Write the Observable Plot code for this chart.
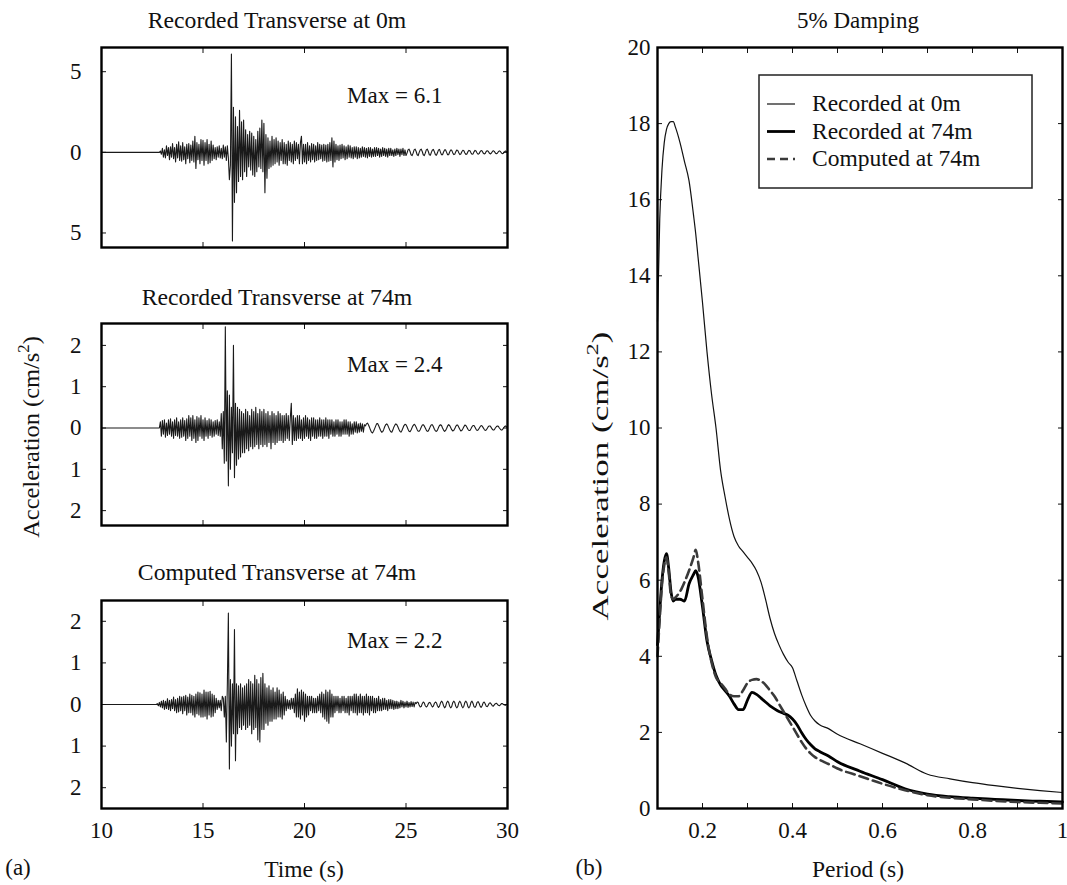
<!DOCTYPE html>
<html>
<head>
<meta charset="utf-8">
<script src="https://cdn.jsdelivr.net/npm/d3@7"></script>
<script src="https://cdn.jsdelivr.net/npm/@observablehq/plot@0.6"></script>
<style>
  body { margin: 0; background: #fff; }
  #fig { position: relative; width: 1067px; height: 885px; overflow: hidden; background: #fff; }
</style>
</head>
<body>
<div id="fig"></div>
<script>
// ---------------- DATA ----------------
// Time series sampled every 0.05 s from 10 s to 30 s (401 samples each, 10 per row = 0.5 s)
const SAMPLE_START = 10;
const SAMPLE_STEP = 0.05;

const acc0mRecorded = [
  0,0,0,0,0,0,0,0,0,0,
  0,0,0,0,0,0,0,0,0,0,
  0,0,0,0,0,0,0,0,0,0,
  0,0,0,0,0,0,0,0,0,0,
  0,0,0,0,0,0,0,0,0,0,
  0,0,0,0,0,0,0,0,0.08,-0.12,
  0.25,-0.3,0.15,-0.35,0.4,-0.2,0.3,-0.45,0.35,-0.3,
  0.55,-0.4,0.3,-0.6,0.5,-0.35,0.65,-0.5,0.4,-0.55,
  0.6,-0.45,0.35,-0.7,0.5,-0.4,0.55,-0.65,0.45,-0.5,
  0.7,-0.6,1.0,-1.0,0.6,-0.45,0.5,-0.7,0.8,-0.5,
  0.75,-0.8,0.6,-0.5,0.8,-0.7,0.5,-0.65,0.7,-0.5,
  0.45,-0.4,0.3,-0.45,0.35,-0.3,0.4,-0.35,0.25,-0.4,
  0.45,-0.3,0.35,-0.5,0.4,-0.35,-1.7,-0.8,6.1,-5.5,
  2.8,-3.1,2.2,-2.5,1.6,-1.8,2.6,-1.5,1.9,-1.7,
  2.0,-1.2,1.4,-1.5,1.1,-0.9,1.3,-1.1,1.2,-1.4,
  1.0,-1.5,0.8,-1.2,1.3,-0.9,1.5,-1.0,2.0,-1.2,
  1.8,-2.5,1.1,-1.6,0.9,-1.0,0.7,-0.9,1.0,-0.8,
  0.8,-0.7,0.9,-0.6,0.7,-0.8,0.6,-0.5,0.8,-0.7,
  0.6,-0.7,0.5,-0.8,0.7,-0.5,0.6,-0.6,0.5,-0.7,
  0.7,-0.5,0.6,-0.4,0.5,-0.7,0.6,1.0,-0.7,0.5,
  -0.6,0.5,-0.7,0.6,-0.5,0.4,-0.6,0.55,-0.45,0.5,
  -0.6,0.4,-0.5,0.6,-0.45,0.5,-0.4,0.45,-0.55,0.5,
  -0.5,0.45,-0.6,0.5,-0.55,0.6,-0.5,0.9,-0.9,0.7,
  -0.6,0.5,-0.45,0.4,-0.5,0.45,-0.4,0.5,-0.35,0.4,
  -0.45,0.35,-0.4,0.45,-0.3,0.4,-0.35,0.3,-0.4,0.35,
  -0.3,0.35,-0.4,0.3,-0.35,0.25,-0.3,0.35,-0.25,0.3,
  -0.3,0.25,-0.35,0.3,-0.25,0.3,-0.3,0.2,-0.25,0.3,
  -0.25,0.3,-0.2,0.25,-0.3,0.2,-0.25,0.3,-0.2,0.25,
  -0.25,0.2,-0.3,0.25,-0.2,0.25,-0.2,0.15,-0.25,0.2,
  -0.2,0.25,-0.15,0.2,-0.25,0.2,-0.15,0.25,-0.2,0.15,
  -0.2,-0.05,0.15,0.2,0.05,-0.15,-0.2,-0.05,0.15,0.2,
  0.05,-0.15,-0.2,0,0.15,0.2,0.05,-0.15,-0.2,-0.05,
  0.15,0.2,0.05,-0.15,-0.18,0,0.15,0.18,0.03,-0.15,
  -0.18,-0.03,0.15,0.18,0,-0.15,-0.15,0.02,0.15,0.15,
  0,-0.15,-0.15,0.02,0.14,0.14,-0.02,-0.14,-0.12,0.03,
  0.14,0.12,-0.03,-0.14,-0.1,0.04,0.13,0.1,-0.04,-0.13,
  -0.1,0.04,0.12,0.1,-0.03,-0.12,-0.1,0.03,0.12,0.08,
  -0.04,-0.12,-0.08,0.04,0.11,0.08,-0.04,-0.1,-0.07,0.05,
  0.1,0.07,-0.04,-0.1,-0.06,0.04,0.1,0.06,-0.04,-0.09,
  -0.06,0.04,0.09,0.05,-0.04,-0.08,-0.05,0.03,0.08,0.04,
  0
];

const acc74mRecorded = [
  0,0,0,0,0,0,0,0,0,0,
  0,0,0,0,0,0,0,0,0,0,
  0,0,0,0,0,0,0,0,0,0,
  0,0,0,0,0,0,0,0,0,0,
  0,0,0,0,0,0,0,0,0,0,
  0,0,0,0,0,0,0,0,0.15,-0.2,
  0.18,-0.15,0.2,-0.22,0.12,-0.18,0.2,-0.15,0.22,-0.2,
  0.15,-0.25,0.2,-0.18,0.25,-0.2,0.15,-0.25,0.2,-0.22,
  0.25,-0.2,0.18,-0.3,0.22,-0.25,0.3,-0.2,0.25,-0.3,
  0.3,-0.25,0.2,-0.35,0.28,-0.3,0.25,-0.2,0.3,-0.25,
  0.2,-0.3,0.25,-0.2,0.18,-0.25,0.22,-0.18,0.2,-0.22,
  0.15,-0.2,0.18,-0.15,0.2,-0.18,0.15,-0.2,0.35,-0.5,
  0.4,-0.85,2.45,-0.8,0.9,-1.4,0.8,-1.0,0.5,-0.6,
  2.0,-1.2,0.6,-0.9,0.5,-0.75,0.45,-0.7,0.4,-0.6,
  0.35,-0.6,0.45,-0.5,0.4,-0.55,0.3,-0.45,0.45,-0.5,
  0.4,-0.45,0.5,-0.4,0.35,-0.5,0.45,-0.4,0.4,-0.45,
  0.45,-0.4,0.35,-0.45,0.4,-0.35,0.3,-0.5,0.4,-0.35,
  0.35,-0.4,0.3,-0.35,0.4,-0.3,0.35,-0.3,0.3,-0.35,
  0.3,-0.3,0.35,-0.25,0.3,-0.3,0.25,0.6,-0.4,0.3,
  -0.3,0.25,-0.3,0.3,-0.25,0.3,-0.25,0.2,-0.3,0.25,
  -0.25,0.3,-0.2,0.25,-0.25,0.2,-0.3,0.25,-0.2,0.25,
  -0.25,0.2,-0.25,0.2,-0.2,0.25,-0.2,0.2,-0.25,0.2,
  -0.2,0.25,-0.2,0.2,-0.25,0.2,-0.15,0.2,-0.2,0.15,
  -0.2,0.2,-0.15,0.2,-0.2,0.15,-0.2,0.15,-0.15,0.2,
  -0.15,0.2,-0.15,0.15,-0.2,0.15,-0.15,0.1,-0.15,0.15,
  -0.1,0.15,-0.12,0.1,-0.1,0.12,-0.08,0.1,-0.1,0.08,
  0.05,0.1,0.12,0.08,0.02,-0.05,-0.1,-0.12,-0.08,-0.02,
  0.04,0.1,0.11,0.06,0,-0.06,-0.1,-0.09,-0.04,0.03,
  0.08,0.1,0.07,0.01,-0.05,-0.09,-0.1,-0.05,0.02,0.07,
  0.1,0.08,0.03,-0.03,-0.08,-0.1,-0.06,0,0.06,0.09,
  0.08,0.03,-0.03,-0.08,-0.09,-0.05,0.01,0.06,0.09,0.07,
  0.02,-0.04,-0.08,-0.08,-0.04,0.02,0.07,0.08,0.05,0,
  -0.05,-0.08,-0.07,-0.02,0.04,0.08,0.08,0.03,-0.03,-0.07,
  -0.08,-0.05,0.01,0.06,0.08,0.06,0,-0.05,-0.08,-0.06,
  -0.01,0.05,0.08,0.06,0.01,-0.04,-0.07,-0.06,-0.02,0.04,
  0.07,0.07,0.02,-0.03,-0.07,-0.06,-0.02,0.03,0.07,0.06,
  0.02,-0.03,-0.06,-0.06,-0.02,0.03,0.06,0.06,0.02,-0.03,
  -0.06,-0.05,-0.01,0.03,0.06,0.05,0.01,-0.03,-0.06,-0.05,
  -0.01,0.03,0.05,0.05,0.01,-0.03,-0.05,-0.04,0,0.03,
  0.05,0.04,0,-0.03,-0.05,-0.04,0,0.03,0.05,0.03,
  0
];

const acc74mComputed = [
  0,0,0,0,0,0,0,0,0,0,
  0,0,0,0,0,0,0,0,0,0,
  0,0,0,0,0,0,0,0,0,0,
  0,0,0,0,0,0,0,0,0,0,
  0,0,0,0,0,0,0,0,0,0,
  0,0,0,0,0,0.02,-0.03,0.05,-0.06,0.08,
  -0.08,0.1,-0.12,0.08,-0.1,0.14,-0.12,0.1,-0.15,0.12,
  -0.1,0.18,-0.15,0.12,-0.2,0.15,-0.18,0.2,-0.15,0.18,
  -0.22,0.2,-0.15,0.22,-0.25,0.18,-0.2,0.25,-0.2,0.22,
  -0.25,0.2,-0.3,0.25,-0.22,0.3,-0.25,0.28,-0.3,0.25,
  -0.3,0.35,-0.28,0.3,-0.35,0.3,-0.25,0.32,-0.3,0.25,
  -0.28,0.22,-0.2,0.15,-0.12,0.1,-0.08,0.1,-0.15,0.2,
  0.15,-0.3,0.2,-0.9,0.5,2.2,-1.55,0.6,-1.0,0.5,
  -0.7,1.8,-1.35,0.5,-0.7,0.45,-0.55,0.5,-0.6,0.4,
  -0.5,0.45,-0.6,0.5,-0.55,0.6,-0.5,0.55,-0.7,0.5,
  -0.6,0.7,-0.55,0.6,-0.85,0.5,-0.9,0.65,-0.6,0.75,
  -0.6,0.5,-0.45,0.4,-0.5,0.45,-0.4,0.35,-0.4,0.4,
  -0.35,0.3,-0.35,0.4,-0.3,0.35,-0.3,0.25,-0.35,0.3,
  -0.25,0.2,-0.15,0.12,-0.1,0.1,-0.12,0.15,-0.1,0.15,
  -0.2,0.25,-0.3,0.38,-0.3,0.3,-0.35,0.35,-0.25,0.3,
  -0.4,0.25,-0.3,0.2,-0.25,0.2,-0.15,0.2,-0.2,0.15,
  -0.2,0.15,-0.2,0.2,-0.15,0.25,-0.2,0.3,-0.3,0.25,
  -0.35,0.35,-0.4,0.3,-0.45,0.35,-0.3,0.25,-0.3,0.2,
  -0.2,0.2,-0.15,0.2,-0.2,0.15,-0.2,0.2,-0.15,0.2,
  -0.2,0.15,-0.2,0.2,-0.25,0.2,-0.15,0.2,-0.2,0.25,
  -0.2,0.25,-0.25,0.2,-0.2,0.25,-0.2,0.2,-0.25,0.2,
  -0.2,0.25,-0.2,0.2,-0.25,0.2,-0.15,0.2,-0.2,0.15,
  -0.2,0.15,-0.15,0.2,-0.15,0.12,-0.15,0.15,-0.12,0.15,
  -0.12,0.1,-0.15,0.12,-0.1,0.12,-0.1,0.1,-0.12,0.08,
  -0.1,0.08,-0.1,0.06,-0.08,0.1,-0.06,0.08,-0.08,0.06,
  -0.06,0.08,-0.07,0.05,-0.06,0.07,-0.05,0.06,-0.06,0.05,
  0.02,0.06,0.05,-0.02,-0.06,-0.05,0.02,0.06,0.04,-0.03,
  -0.06,-0.04,0.02,0.05,0.04,-0.02,-0.06,-0.04,0.03,0.06,
  0.04,-0.03,-0.07,-0.04,0.04,0.08,0.05,-0.03,-0.08,-0.05,
  0.04,0.08,0.05,-0.04,-0.08,-0.05,0.04,0.08,0.05,-0.04,
  -0.08,-0.05,0.04,0.08,0.04,-0.04,-0.08,-0.04,0.05,0.08,
  0.04,-0.05,-0.08,-0.04,0.05,0.08,0.03,-0.05,-0.07,-0.03,
  0.05,0.07,0.03,-0.04,-0.07,-0.03,0.04,0.06,0.02,-0.04,
  -0.05,-0.02,0.03,0.04,0.01,-0.03,-0.04,-0.01,0.02,0.03,
  0.01,-0.02,-0.03,-0.01,0.02,0.02,0,-0.01,-0.02,0,
  0
];

const traceTitles = ["Recorded Transverse at 0m", "Recorded Transverse at 74m", "Computed Transverse at 74m"];
const traceMaxLabels = ["Max = 6.1", "Max = 2.4", "Max = 2.2"];
const timeTicks = [10, 15, 20, 25, 30];
const timeMinorTicks = [15, 20, 25];
const ticksTop = [-5, 0, 5];
const ticksLower = [-2, -1, 0, 1, 2];

// Response spectra, 5% damping
const periods = [0.1,0.105,0.11,0.115,0.12,0.125,0.13,0.135,0.14,
  0.15,0.16,0.17,0.18,0.185,0.19,
  0.2,0.21,0.22,0.23,0.24,0.25,0.26,0.27,0.28,0.29,0.3,0.31,0.32,0.33,0.34,0.35,0.36,0.37,0.38,0.39,0.4,0.41,0.42,0.43,0.44,0.45,0.46,
  0.48,0.5,
  0.55,0.6,0.65,0.7,0.75,0.8,0.85,0.9,0.95,1.0];
const saRecorded0m = [12.8,15.5,16.8,17.5,17.85,18.0,18.05,18.05,17.9,
  17.5,17.0,16.5,15.6,15.1,14.5,
  13.3,12.0,10.9,10.0,8.9,8.2,7.6,7.15,6.9,6.75,6.6,6.45,6.25,5.95,5.5,5.0,4.6,4.3,4.05,3.85,3.7,3.35,3.0,2.7,2.45,2.3,2.2,
  2.1,1.95,
  1.7,1.45,1.2,0.9,0.78,0.68,0.6,0.53,0.47,0.42];
const saRecorded74m = [4.3,5.2,6.0,6.5,6.7,6.3,5.7,5.45,5.5,
  5.5,5.45,5.9,6.15,6.25,6.1,
  5.3,4.4,3.9,3.5,3.25,3.1,2.95,2.75,2.6,2.6,2.85,3.05,3.0,2.9,2.8,2.7,2.62,2.55,2.5,2.45,2.35,2.2,2.0,1.82,1.68,1.57,1.5,
  1.38,1.23,
  0.98,0.76,0.52,0.38,0.31,0.27,0.24,0.21,0.19,0.17];
const saComputed74m = [4.0,5.0,5.9,6.4,6.6,6.2,5.6,5.5,5.55,
  5.7,5.95,6.25,6.6,6.8,6.5,
  5.5,4.5,3.85,3.45,3.3,3.15,3.0,2.95,2.95,3.1,3.3,3.38,3.4,3.35,3.25,3.1,2.95,2.75,2.55,2.35,2.15,1.95,1.75,1.58,1.45,1.35,1.28,
  1.17,1.05,
  0.85,0.65,0.48,0.35,0.28,0.24,0.2,0.17,0.15,0.13];
const spectrumSeries = ["Recorded at 0m", "Recorded at 74m", "Computed at 74m"];
const periodTicks = [0.2, 0.4, 0.6, 0.8, 1];
const periodMinorTicks = [0.2, 0.3, 0.4, 0.5, 0.6, 0.7, 0.8, 0.9];
const spectrumTicks = [0, 2, 4, 6, 8, 10, 12, 14, 16, 18, 20];

// ---------------- STYLE ----------------
const FONT = '"Liberation Serif", "Times New Roman", serif';
const INK = "#111";
const seriesStyle = [
  {stroke: "#111", strokeWidth: 1.2, dash: null},
  {stroke: "#000", strokeWidth: 2.8, dash: null},
  {stroke: "#3a3a3a", strokeWidth: 2.6, dash: "9,5"}
];

const fig = document.getElementById("fig");

function baseStyle(left, top) {
  return {position: "absolute", left: left + "px", top: top + "px", fontFamily: FONT,
          fontSize: "23px", color: INK, background: "none", overflow: "visible"};
}

function tracePanel(values, yDomain, yTicks, top, height, marginBottom, showXLabels) {
  const data = values.map((v, i) => ({t: SAMPLE_START + i * SAMPLE_STEP, a: v}));
  return Plot.plot({
    width: 480, height,
    marginLeft: 61, marginRight: 13, marginTop: 17, marginBottom,
    style: baseStyle(40, top),
    x: {domain: [10, 30]},
    y: {domain: yDomain},
    marks: [
      Plot.line(data, {x: "t", y: "a", stroke: "#1a1a1a", strokeWidth: 1.1}),
      Plot.axisY(yTicks, {anchor: "left", tickSize: 0, tickPadding: 20, tickFormat: d => String(Math.abs(d)), label: null}),
      Plot.axisY(yTicks, {anchor: "left", tickSize: 5, dx: 5, fill: "none", label: null}),
      Plot.axisY(yTicks, {anchor: "right", tickSize: 5, dx: -5, fill: "none", label: null}),
      Plot.axisX(timeMinorTicks, {anchor: "top", tickSize: 5, dy: 5, fill: "none", label: null}),
      Plot.axisX(timeMinorTicks, {anchor: "bottom", tickSize: 5, dy: -5, fill: "none", label: null}),
      showXLabels ? Plot.axisX(timeTicks, {anchor: "bottom", tickSize: 0, tickPadding: 13, label: null}) : null,
      Plot.frame({stroke: "#000", strokeWidth: 2.4})
    ]
  });
}

fig.append(tracePanel(acc0mRecorded, [-5.9, 6.5], ticksTop, 30, 230, 13, false));
fig.append(tracePanel(acc74mRecorded, [-2.36, 2.53], ticksLower, 306, 232, 13, false));
fig.append(tracePanel(acc74mComputed, [-2.5, 2.5], ticksLower, 583, 265, 40, true));

// Spectrum panel
const spectra = [saRecorded0m, saRecorded74m, saComputed74m];
const spectrumMarks = spectra.map((vals, k) =>
  Plot.line(periods.map((p, i) => ({p, v: vals[i]})), {
    x: "p", y: "v", stroke: seriesStyle[k].stroke, strokeWidth: seriesStyle[k].strokeWidth,
    strokeDasharray: seriesStyle[k].dash, curve: "monotone-x"
  })
);

fig.append(Plot.plot({
  width: 507, height: 818,
  marginLeft: 97, marginRight: 5, marginTop: 17, marginBottom: 40,
  style: baseStyle(560, 30),
  x: {domain: [0.1, 1.0]},
  y: {domain: [0, 20]},
  marks: [
    ...spectrumMarks,
    Plot.axisY(spectrumTicks, {anchor: "left", tickSize: 0, tickPadding: 7, label: null}),
    Plot.axisY(spectrumTicks, {anchor: "left", tickSize: 5, dx: 5, fill: "none", label: null}),
    Plot.axisY(spectrumTicks, {anchor: "right", tickSize: 5, dx: -5, fill: "none", label: null}),
    Plot.axisX(periodMinorTicks, {anchor: "top", tickSize: 5, dy: 5, fill: "none", label: null}),
    Plot.axisX(periodMinorTicks, {anchor: "bottom", tickSize: 5, dy: -5, fill: "none", label: null}),
    Plot.axisX(periodTicks, {anchor: "bottom", tickSize: 0, tickPadding: 13, tickFormat: d => String(d), label: null}),
    Plot.frame({stroke: "#000", strokeWidth: 2.4})
  ]
}));

// ---------------- OVERLAY TEXT / LEGEND ----------------
const ov = d3.create("svg")
  .attr("width", 1067).attr("height", 885)
  .style("position", "absolute").style("left", "0px").style("top", "0px")
  .style("pointer-events", "none")
  .attr("font-family", FONT).attr("fill", INK);

function label(x, y, s, size, anchor) {
  return ov.append("text").attr("x", x).attr("y", y).attr("font-size", size)
    .attr("text-anchor", anchor || "middle").text(s);
}

// panel titles
label(277, 28, traceTitles[0], 23.7);
label(277, 305, traceTitles[1], 23.7);
label(277, 580, traceTitles[2], 23.7);
label(858, 28, "5% Damping", 23);

// max annotations
label(347, 103, traceMaxLabels[0], 23, "start");
label(347, 372, traceMaxLabels[1], 23, "start");
label(347, 648, traceMaxLabels[2], 23, "start");

// x-axis titles and panel tags
label(304, 877, "Time (s)", 23.5);
label(858, 877, "Period (s)", 23.5);
label(18, 875, "(a)", 23);
label(589, 875, "(b)", 23);

// rotated y-axis titles
function yTitle(x, y, stretch) {
  const t = ov.append("text")
    .attr("transform", `translate(${x},${y}) rotate(-90) scale(${stretch},1)`)
    .attr("font-size", 23.5).attr("text-anchor", "middle");
  t.append("tspan").text("Acceleration (cm/s");
  t.append("tspan").attr("dy", -10).attr("font-size", 16).text("2");
  t.append("tspan").attr("dy", 10).text(")");
}
yTitle(39, 437, 1.04);
yTitle(608, 476, 1.49);

// legend
const lg = ov.append("g");
lg.append("rect").attr("x", 759).attr("y", 75).attr("width", 273).attr("height", 113)
  .attr("fill", "#fff").attr("stroke", "#222").attr("stroke-width", 1.5);
spectrumSeries.forEach((name, k) => {
  const y = 104 + k * 27.5;
  lg.append("line").attr("x1", 767).attr("x2", 795).attr("y1", y).attr("y2", y)
    .attr("stroke", seriesStyle[k].stroke).attr("stroke-width", seriesStyle[k].strokeWidth)
    .attr("stroke-dasharray", seriesStyle[k].dash ? "8,5" : null);
  lg.append("text").attr("x", 812).attr("y", y + 7).attr("font-size", 23.5).text(name);
});

fig.append(ov.node());
</script>
</body>
</html>
